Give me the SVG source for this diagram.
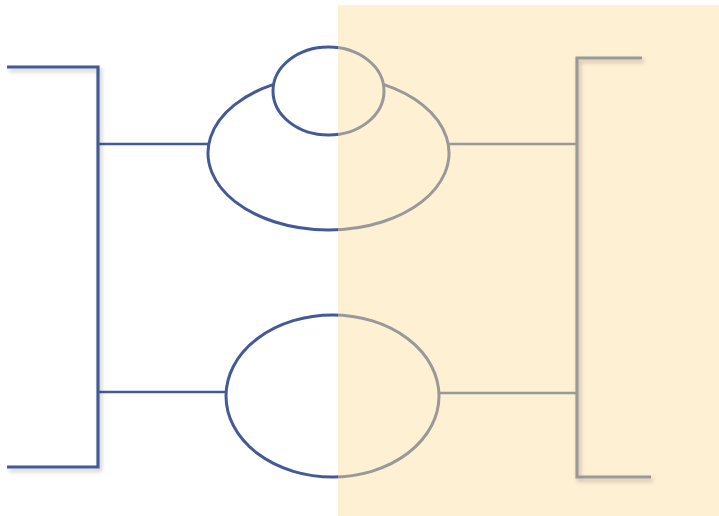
<svg xmlns="http://www.w3.org/2000/svg" width="719" height="516" viewBox="0 0 719 516">
  <defs>
    <linearGradient id="split" gradientUnits="userSpaceOnUse" x1="0" y1="0" x2="719" y2="0">
      <stop offset="0" stop-color="#435A96"/>
      <stop offset="0.4701" stop-color="#435A96"/>
      <stop offset="0.4701" stop-color="#999999"/>
      <stop offset="1" stop-color="#999999"/>
    </linearGradient>
    <filter id="shadow" x="-20%" y="-20%" width="140%" height="140%">
      <feDropShadow dx="2" dy="3" stdDeviation="2" flood-color="#000" flood-opacity="0.22"/>
    </filter>
    <style>
      .blue { stroke: #435A96; }
      .gray { stroke: #999999; }
      .bracket { fill: none; stroke-width: 3.2; stroke-linejoin: miter; filter: url(#shadow); }
      .conn { fill: none; stroke-width: 2.5; }
      .shape { fill: none; stroke: url(#split); stroke-width: 3; }
    </style>
  </defs>
  <rect x="0" y="0" width="719" height="516" fill="#FFFFFF"/>
  <rect id="panel" x="338" y="5" width="381" height="511" fill="#FEF0D3"/>

  <g id="connectors">
    <line class="conn blue" x1="98" y1="144" x2="209" y2="144"/>
    <line class="conn gray" x1="449" y1="144" x2="577" y2="144"/>
    <line class="conn blue" x1="98" y1="392" x2="227" y2="392"/>
    <line class="conn gray" x1="439" y1="393" x2="577" y2="393"/>
  </g>

  <g id="bracket-left">
    <polyline class="bracket blue" points="7,67 98,67 98,467 7,467"/>
  </g>
  <g id="bracket-right">
    <polyline class="bracket gray" points="642,58 577,58 577,477 651,477"/>
  </g>

  <g id="ellipse-top-outer">
    <path class="shape" d="M 273 84.65 A 120.5 77 0 1 0 384 84.65"/>
  </g>
  <g id="ellipse-top-inner">
    <ellipse class="shape" cx="328.5" cy="91" rx="55.5" ry="44"/>
  </g>
  <g id="ellipse-bottom">
    <ellipse class="shape" cx="332.5" cy="396" rx="106.5" ry="81"/>
  </g>
</svg>
